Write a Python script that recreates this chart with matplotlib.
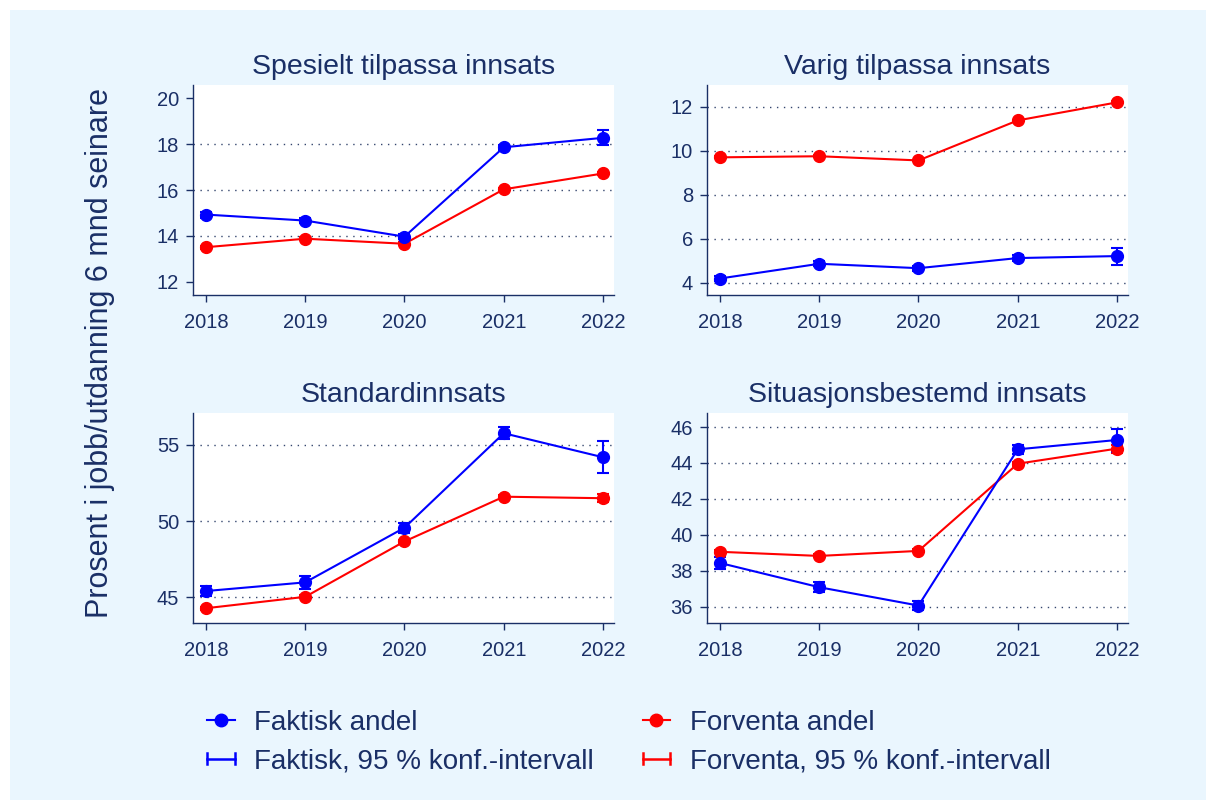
"""Faktisk vs forventa andel i jobb/utdanning, fire innsatsgrupper."""

import matplotlib

matplotlib.use("Agg")
import matplotlib.pyplot as plt
from matplotlib.legend_handler import HandlerBase
from matplotlib.lines import Line2D
from matplotlib.patches import Rectangle

plt.rcParams["font.family"] = ["Liberation Sans", "DejaVu Sans"]

years = [2018, 2019, 2020, 2021, 2022]

panel_titles = [
    "Spesielt tilpassa innsats",
    "Varig tilpassa innsats",
    "Standardinnsats",
    "Situasjonsbestemd innsats",
]

# faktisk andel with 95 % CI (low, high)
faktisk_spesielt = [14.93, 14.67, 13.97, 17.86, 18.27]
faktisk_spesielt_lo = [14.80, 14.55, 13.85, 17.75, 17.94]
faktisk_spesielt_hi = [15.06, 14.79, 14.09, 17.97, 18.59]
forventa_spesielt = [13.51, 13.88, 13.66, 16.03, 16.72]
forventa_spesielt_lo = [13.45, 13.82, 13.60, 15.97, 16.64]
forventa_spesielt_hi = [13.57, 13.94, 13.72, 16.09, 16.80]

faktisk_varig = [4.20, 4.87, 4.67, 5.13, 5.22]
faktisk_varig_lo = [4.10, 4.76, 4.56, 5.01, 4.82]
faktisk_varig_hi = [4.30, 4.98, 4.78, 5.25, 5.60]
forventa_varig = [9.71, 9.76, 9.57, 11.39, 12.21]
forventa_varig_lo = [9.67, 9.72, 9.53, 11.35, 12.16]
forventa_varig_hi = [9.75, 9.80, 9.61, 11.43, 12.26]

faktisk_standard = [45.40, 45.97, 49.56, 55.77, 54.19]
faktisk_standard_lo = [45.08, 45.55, 49.22, 55.38, 53.13]
faktisk_standard_hi = [45.72, 46.39, 49.90, 56.16, 55.29]
forventa_standard = [44.27, 45.02, 48.66, 51.60, 51.50]
forventa_standard_lo = [44.17, 44.92, 48.56, 51.48, 51.24]
forventa_standard_hi = [44.37, 45.12, 48.76, 51.72, 51.76]

faktisk_situasjon = [38.44, 37.09, 36.07, 44.76, 45.28]
faktisk_situasjon_lo = [38.12, 36.82, 35.80, 44.50, 44.63]
faktisk_situasjon_hi = [38.76, 37.36, 36.34, 45.02, 45.91]
forventa_situasjon = [39.06, 38.83, 39.11, 43.96, 44.80]
forventa_situasjon_lo = [38.98, 38.75, 39.03, 43.86, 44.58]
forventa_situasjon_hi = [39.14, 38.91, 39.19, 44.06, 45.02]

panels = [
    (faktisk_spesielt, faktisk_spesielt_lo, faktisk_spesielt_hi,
     forventa_spesielt, forventa_spesielt_lo, forventa_spesielt_hi),
    (faktisk_varig, faktisk_varig_lo, faktisk_varig_hi,
     forventa_varig, forventa_varig_lo, forventa_varig_hi),
    (faktisk_standard, faktisk_standard_lo, faktisk_standard_hi,
     forventa_standard, forventa_standard_lo, forventa_standard_hi),
    (faktisk_situasjon, faktisk_situasjon_lo, faktisk_situasjon_hi,
     forventa_situasjon, forventa_situasjon_lo, forventa_situasjon_hi),
]

y_ticks = [
    [12, 14, 16, 18, 20],
    [4, 6, 8, 10, 12],
    [45, 50, 55],
    [36, 38, 40, 42, 44, 46],
]
y_limits = [(11.43, 20.57), (3.45, 13.0), (43.3, 57.1), (35.1, 46.78)]
grid_values = [
    [14, 16, 18],
    [4, 6, 8, 10, 12],
    [45, 50, 55],
    [36, 38, 40, 42, 44, 46],
]

legend_labels = [
    "Faktisk andel",
    "Faktisk, 95 % konf.-intervall",
    "Forventa andel",
    "Forventa, 95 % konf.-intervall",
]

NAVY = "#1a2f66"
BLUE = "#0000ff"
RED = "#ff0000"
PANEL_BG = "#eaf6fe"


class CapHandler(HandlerBase):
    """|---| style legend key for the CI rcap."""

    def create_artists(self, legend, orig_handle, xdescent, ydescent,
                       width, height, fontsize, trans):
        x0, x1 = -xdescent, -xdescent + width
        yc = -ydescent + height / 2.0
        h = height * 0.28
        color = orig_handle.get_color()
        lw = orig_handle.get_linewidth()
        arts = [
            Line2D([x0, x1], [yc, yc], color=color, lw=lw),
            Line2D([x0, x0], [yc - h, yc + h], color=color, lw=lw),
            Line2D([x1, x1], [yc - h, yc + h], color=color, lw=lw),
        ]
        for art in arts:
            art.set_transform(trans)
        return arts


fig = plt.figure(figsize=(12.06, 8.0), dpi=100, facecolor="white")
fig.patches.append(
    Rectangle((10 / 1206, 0), 1 - 10 / 1206, 1 - 10 / 800,
              transform=fig.transFigure, facecolor=PANEL_BG,
              edgecolor="none", zorder=-5)
)

positions = [
    (193 / 1206, 1 - 295 / 800),
    (707 / 1206, 1 - 295 / 800),
    (193 / 1206, 1 - 623 / 800),
    (707 / 1206, 1 - 623 / 800),
]
ax_w = 421 / 1206
ax_h = 210 / 800

for idx, (left, bottom) in enumerate(positions):
    ax = fig.add_axes([left, bottom, ax_w, ax_h])
    ax.set_zorder(2)
    ax.set_facecolor("white")
    fak, fak_lo, fak_hi, fov, fov_lo, fov_hi = panels[idx]

    for gv in grid_values[idx]:
        ax.axhline(gv, color="#34466e", lw=1.0, ls=(0, (1, 4)), zorder=1)

    for vals, lo, hi, color in ((fov, fov_lo, fov_hi, RED),
                                (fak, fak_lo, fak_hi, BLUE)):
        yerr = [[v - l for v, l in zip(vals, lo)],
                [h - v for v, h in zip(vals, hi)]]
        ax.errorbar(years, vals, yerr=yerr, fmt="none", ecolor=color,
                    elinewidth=1.5, capsize=4, capthick=1.5, zorder=3)
        ax.plot(years, vals, color=color, lw=1.5, marker="o",
                markersize=8.5, zorder=4)

    ax.set_xlim(2017.87, 2022.11)
    ax.set_ylim(*y_limits[idx])
    ax.set_xticks(years)
    ax.set_yticks(y_ticks[idx])
    ax.set_title(panel_titles[idx], fontsize=20.5, color=NAVY, pad=8)
    for side in ("top", "right"):
        ax.spines[side].set_visible(False)
    for side in ("left", "bottom"):
        ax.spines[side].set_color(NAVY)
        ax.spines[side].set_linewidth(1.0)
    ax.tick_params(axis="both", colors=NAVY, labelsize=14.5, length=5,
                   width=1.0)
    ax.tick_params(axis="x", pad=8)
    ax.tick_params(axis="y", pad=5)

fig.text(100 / 1206, 1 - 353 / 800, "Prosent i jobb/utdanning 6 mnd seinare",
         rotation=90, ha="center", va="center", fontsize=22, color=NAVY)

handles = [
    Line2D([], [], color=BLUE, lw=1.5, marker="o", markersize=9),
    Line2D([], [], color=BLUE, lw=1.8),
    Line2D([], [], color=RED, lw=1.5, marker="o", markersize=9),
    Line2D([], [], color=RED, lw=1.8),
]
cap_handler = CapHandler()
leg = fig.legend(
    handles, legend_labels, ncol=2, loc="upper left",
    bbox_to_anchor=(182 / 1206, 1 - 685 / 800), frameon=False,
    fontsize=20, handlelength=1.0, handletextpad=0.7, columnspacing=1.75,
    labelspacing=0.45,
    handler_map={handles[1]: cap_handler, handles[3]: cap_handler},
)
for text in leg.get_texts():
    text.set_color(NAVY)

fig.savefig("out.png", dpi=100, facecolor="white")
